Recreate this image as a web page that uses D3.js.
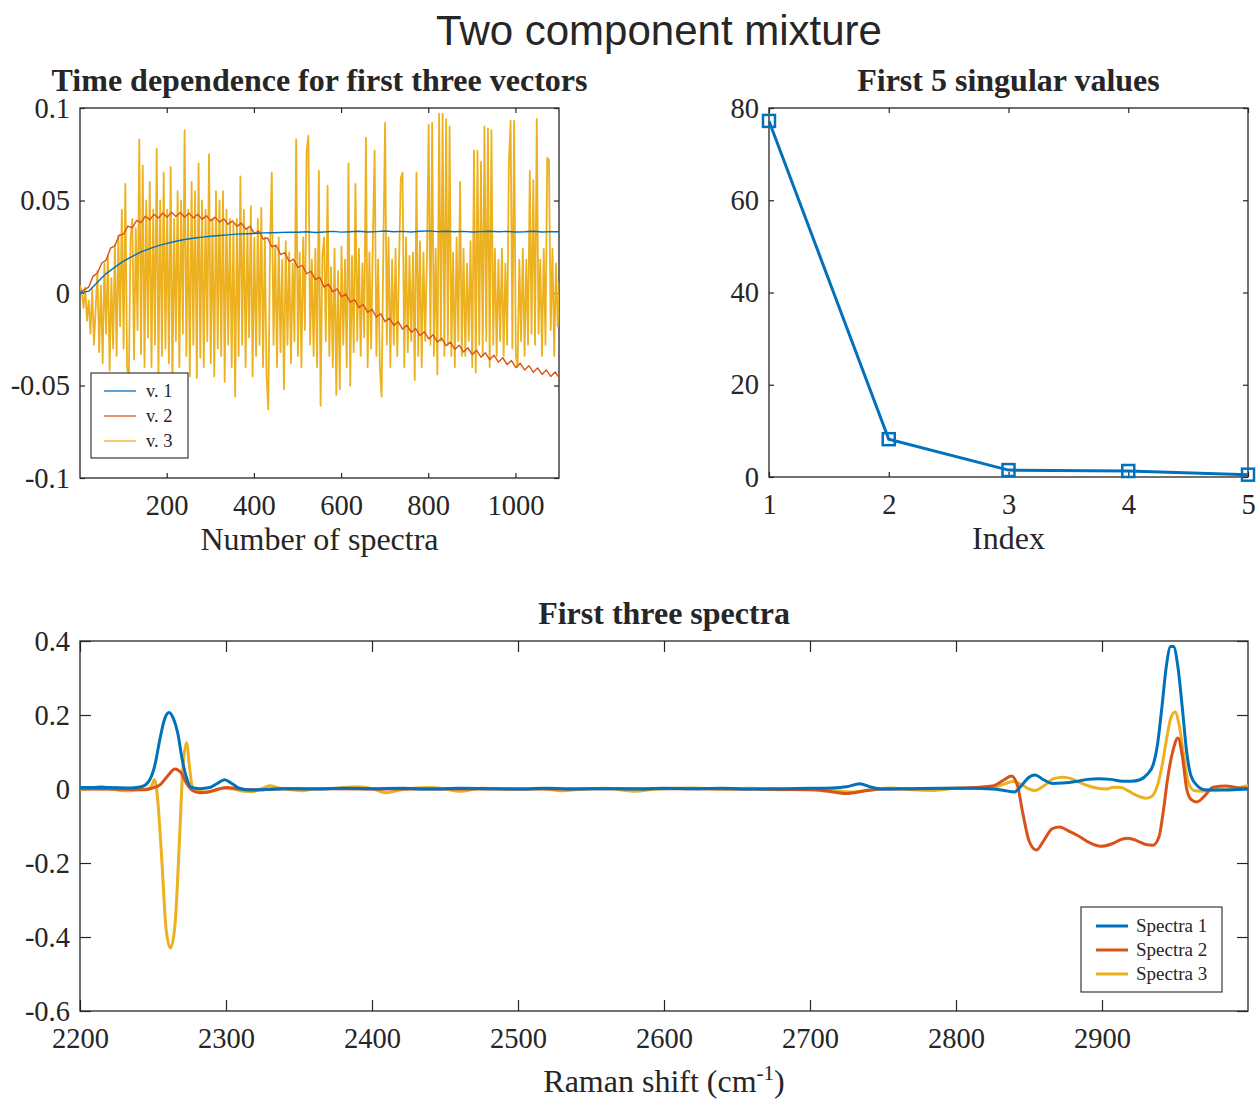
<!DOCTYPE html>
<html lang="en">
<head>
<meta charset="UTF-8">
<title>Two component mixture</title>
<script src="https://d3js.org/d3.v7.min.js"></script>
<style>
  body { margin: 0; background: #fff; }
  svg text { font-family: "Liberation Serif", "Times New Roman", serif; fill: #262626; }
</style>
</head>
<body>
<script>
// ---------- data ----------
var blue = "#0072BD", orange = "#D95319", yellow = "#EDB120";

// time dependence of the first three vectors (spectrum number -> value)
var v1Start = 1, v1Step = 20;
var v1 = [0.0000, 0.0010, 0.0058, 0.0105, 0.0140, 0.0172, 0.0198, 0.0222, 0.0240, 0.0256,
          0.0268, 0.0280, 0.0289, 0.0296, 0.0302, 0.0307, 0.0311, 0.0314, 0.0318, 0.0320,
          0.0322, 0.0325, 0.0326, 0.0327, 0.0329, 0.0328, 0.0331, 0.0327, 0.0330, 0.0333,
          0.0329, 0.0331, 0.0334, 0.0330, 0.0332, 0.0335, 0.0331, 0.0333, 0.0330, 0.0334,
          0.0336, 0.0332, 0.0334, 0.0331, 0.0333, 0.0330, 0.0332, 0.0334, 0.0331, 0.0333,
          0.0330, 0.0331, 0.0334, 0.0330, 0.0332, 0.0331];

var v2Start = 1, v2Step = 10;
var v2 = [0.0000, 0.0018, 0.0032, 0.0090, 0.0108, 0.0162, 0.0178, 0.0242, 0.0255, 0.0312,
          0.0318, 0.0362, 0.0352, 0.0392, 0.0380, 0.0415, 0.0396, 0.0425, 0.0405, 0.0432,
          0.0410, 0.0436, 0.0414, 0.0435, 0.0410, 0.0431, 0.0406, 0.0426, 0.0398, 0.0418,
          0.0390, 0.0410, 0.0383, 0.0400, 0.0372, 0.0390, 0.0360, 0.0378, 0.0345, 0.0360,
          0.0322, 0.0335, 0.0292, 0.0298, 0.0250, 0.0258, 0.0208, 0.0218, 0.0170, 0.0182,
          0.0138, 0.0150, 0.0104, 0.0117, 0.0072, 0.0085, 0.0032, 0.0048, 0.0006, 0.0022,
          -0.0020, -0.0006, -0.0050, -0.0036, -0.0078, -0.0062, -0.0105, -0.0088, -0.0130, -0.0113,
          -0.0155, -0.0136, -0.0175, -0.0155, -0.0195, -0.0174, -0.0213, -0.0192, -0.0230, -0.0209,
          -0.0248, -0.0226, -0.0265, -0.0245, -0.0285, -0.0265, -0.0305, -0.0282, -0.0319, -0.0296,
          -0.0333, -0.0310, -0.0347, -0.0323, -0.0360, -0.0337, -0.0374, -0.0350, -0.0387, -0.0365,
          -0.0403, -0.0380, -0.0416, -0.0393, -0.0429, -0.0405, -0.0440, -0.0416, -0.0451, -0.0427,
          -0.0460];

var v3Start = 1, v3Step = 4;
var v3 = [0.004, 0.001, -0.008, 0.003, -0.015, -0.004, -0.022, 0.002, -0.028, -0.008,
          0.012, -0.032, 0.004, -0.038, 0.016, -0.022, 0.020, -0.042, 0.008, -0.030,
          0.026, -0.034, 0.031, -0.018, 0.045, -0.030, 0.059, -0.040, -0.047, 0.030,
          0.040, -0.036, 0.035, -0.020, 0.083, -0.033, 0.069, -0.040, 0.050, -0.024,
          0.060, -0.040, 0.045, -0.028, 0.078, -0.044, 0.050, -0.034, 0.065, -0.030,
          0.045, -0.038, 0.068, -0.052, 0.040, -0.026, 0.055, -0.040, 0.050, -0.022,
          0.088, -0.034, 0.045, -0.045, 0.060, -0.028, 0.055, -0.046, 0.070, -0.035,
          0.050, -0.040, 0.045, -0.026, 0.075, -0.038, 0.040, -0.045, 0.055, -0.030,
          0.050, -0.034, 0.055, -0.048, 0.045, -0.028, 0.040, -0.040, 0.038, -0.056,
          0.040, -0.034, 0.063, -0.028, 0.045, -0.040, 0.035, -0.024, 0.047, -0.045,
          0.030, -0.034, 0.040, -0.028, 0.046, -0.040, 0.030, -0.045, -0.063, 0.025,
          0.065, -0.028, 0.025, -0.040, 0.030, -0.032, 0.018, -0.052, 0.028, -0.028,
          0.022, -0.038, 0.016, -0.026, 0.083, -0.034, 0.022, -0.040, 0.030, -0.020,
          0.077, 0.085, -0.028, 0.018, -0.034, 0.024, -0.040, 0.066, -0.061, 0.020,
          0.030, -0.026, 0.058, -0.034, 0.014, -0.040, 0.024, -0.055, 0.012, -0.052,
          0.025, -0.028, 0.018, -0.040, 0.070, -0.050, 0.020, -0.032, 0.059, -0.026,
          0.024, -0.034, 0.016, -0.024, 0.084, -0.040, 0.022, -0.030, 0.030, 0.077,
          -0.034, 0.018, -0.040, -0.056, 0.024, 0.092, -0.028, 0.030, -0.040, 0.018,
          -0.028, 0.024, -0.034, 0.016, 0.062, 0.065, -0.040, 0.030, -0.032, 0.020,
          -0.026, 0.022, -0.047, 0.065, -0.034, 0.028, -0.040, 0.022, -0.026, 0.018,
          0.091, -0.028, 0.092, -0.034, 0.024, -0.044, 0.097, -0.026, 0.097, -0.034,
          0.094, -0.028, 0.090, -0.034, 0.022, -0.040, 0.030, -0.026, 0.060, -0.034,
          0.024, -0.034, 0.016, -0.026, 0.028, -0.040, 0.077, -0.043, 0.077, -0.028,
          0.071, -0.034, 0.090, -0.026, 0.089, -0.040, 0.088, -0.028, 0.024, -0.034,
          0.018, -0.026, 0.024, -0.034, 0.016, -0.028, 0.070, 0.093, -0.030, 0.093,
          -0.034, -0.040, 0.018, -0.026, 0.024, -0.034, 0.018, -0.028, 0.066, -0.022,
          0.061, -0.028, 0.094, -0.022, 0.018, -0.034, 0.024, -0.028, 0.073, 0.072,
          -0.020, 0.024, -0.034, 0.016, -0.018, 0.006];

var vectorNames = ["v. 1", "v. 2", "v. 3"];
var timeXTicks = [200, 400, 600, 800, 1000];
var timeYTicks = [-0.1, -0.05, 0, 0.05, 0.1];

// singular values
var svIndex = [1, 2, 3, 4, 5];
var svValue = [77.2, 8.2, 1.5, 1.3, 0.5];
var svYTicks = [0, 20, 40, 60, 80];

// first three spectra: Raman shift (cm-1) and value
var s1Shift = [2200, 2220, 2235, 2242, 2247, 2251, 2255, 2258, 2261, 2264, 2267, 2270, 2273, 2276, 2282,
               2289, 2294, 2299, 2304, 2309, 2316, 2325, 2340, 2360, 2380, 2400, 2420, 2440, 2460, 2480,
               2500, 2520, 2540, 2560, 2580, 2600, 2620, 2640, 2660, 2680, 2700, 2715, 2725, 2734, 2742,
               2750, 2770, 2790, 2810, 2825, 2833, 2840, 2845, 2850, 2854, 2860, 2866, 2873, 2882, 2890,
               2898, 2906, 2914, 2920, 2926, 2931, 2935, 2938, 2941, 2944, 2947, 2949, 2952, 2955, 2958,
               2961, 2965, 2970, 2980, 2990, 3000];
var s1Value = [0.004, 0.004, 0.003, 0.006, 0.02, 0.06, 0.14, 0.19, 0.207, 0.19, 0.15, 0.08, 0.03, 0.005, 0.001,
               0.004, 0.015, 0.025, 0.015, 0.002, -0.003, -0.002, 0.001, 0.0, 0.002, 0.001, 0.002, 0.0, 0.002, 0.001,
               0.0, 0.002, 0.0, 0.001, 0.0, 0.002, 0.001, 0.002, 0.0, 0.001, 0.002, 0.003, 0.006, 0.014, 0.005,
               0.0, 0.001, 0.002, 0.002, 0.0, -0.004, -0.008, 0.01, 0.032, 0.038, 0.025, 0.015, 0.016, 0.02, 0.026,
               0.028, 0.026, 0.021, 0.021, 0.025, 0.04, 0.065, 0.12, 0.22, 0.33, 0.385, 0.385, 0.33, 0.22, 0.1,
               0.035, 0.01, -0.002, -0.003, -0.002, 0.0];

var s2Shift = [2200, 2230, 2245, 2250, 2255, 2260, 2265, 2269, 2273, 2277, 2282, 2288, 2295, 2301, 2308,
               2320, 2340, 2400, 2500, 2600, 2700, 2712, 2725, 2738, 2750, 2800, 2825, 2833, 2838, 2842,
               2846, 2850, 2855, 2860, 2866, 2871, 2877, 2883, 2890, 2899, 2907, 2914, 2918, 2924, 2930,
               2935, 2939, 2942, 2945, 2949, 2952, 2955, 2958, 2961, 2965, 2970, 2976, 2985, 2992, 3000];
var s2Value = [0.0, -0.001, -0.002, 0.003, 0.012, 0.035, 0.054, 0.045, 0.015, -0.004, -0.01, -0.008, 0.0, 0.004, 0.0,
               -0.002, 0.001, 0.0, 0.0, 0.001, -0.002, -0.006, -0.012, -0.005, 0.0, 0.002, 0.008, 0.025, 0.035, 0.01,
               -0.07, -0.14, -0.165, -0.14, -0.107, -0.103, -0.113, -0.125, -0.142, -0.155, -0.148, -0.135, -0.133, -0.14, -0.15,
               -0.152, -0.13, -0.06, 0.03, 0.11, 0.138, 0.09, 0.0, -0.028, -0.035, -0.02, 0.005, 0.008, 0.004, 0.002];

var s3Shift = [2200, 2207, 2215, 2222, 2232, 2240, 2246, 2249, 2251, 2253, 2256, 2259, 2262, 2265, 2268,
               2270.5, 2273, 2275, 2277, 2281, 2286, 2292, 2298, 2305, 2312, 2318, 2324, 2330, 2336, 2345,
               2352, 2360, 2375, 2390, 2400, 2410, 2420, 2440, 2450, 2460, 2475, 2500, 2515, 2530, 2545,
               2560, 2580, 2595, 2620, 2640, 2660, 2680, 2700, 2715, 2728, 2740, 2755, 2770, 2785, 2800,
               2815, 2825, 2832, 2839, 2845, 2850, 2854, 2860, 2867, 2873, 2879, 2885, 2891, 2897, 2903,
               2908, 2913, 2918, 2924, 2930, 2934, 2938, 2941, 2944, 2947, 2950, 2953, 2956, 2959, 2963,
               2968, 2975, 2985, 2995, 3000];
var s3Value = [-0.002, 0.002, 0.007, 0.0, -0.005, -0.002, 0.0, 0.008, 0.025, -0.02, -0.19, -0.38, -0.43, -0.37, -0.15,
               0.06, 0.125, 0.06, 0.005, -0.006, -0.008, -0.004, 0.002, 0.0, -0.006, -0.007, 0.0, 0.009, 0.003, -0.002,
               -0.005, 0.0, 0.002, 0.006, 0.001, -0.01, -0.002, 0.004, 0.0, -0.006, 0.002, 0.0, 0.002, -0.005, 0.0,
               0.002, -0.006, 0.0, 0.003, 0.0, 0.002, -0.002, 0.0, -0.004, -0.008, -0.003, 0.003, -0.002, -0.004, 0.002,
               0.003, 0.004, 0.012, 0.02, 0.012, 0.0, -0.004, 0.008, 0.028, 0.032, 0.028, 0.017, 0.008, 0.002, 0.0,
               0.005, 0.004, -0.005, -0.018, -0.025, -0.02, 0.01, 0.06, 0.13, 0.19, 0.208, 0.17, 0.09, 0.02, -0.004,
               -0.006, -0.003, -0.001, 0.004, 0.01];

var spectraNames = ["Spectra 1", "Spectra 2", "Spectra 3"];
var ramanXTicks = [2200, 2300, 2400, 2500, 2600, 2700, 2800, 2900];
var ramanYTicks = [-0.6, -0.4, -0.2, 0, 0.2, 0.4];

// ---------- drawing ----------
var width = 1257, height = 1099;
var ink = "#262626";

var svg = d3.select("body").append("svg")
    .attr("width", width)
    .attr("height", height);

svg.append("text")
    .attr("x", 659).attr("y", 45)
    .attr("text-anchor", "middle")
    .style("font-family", "'Liberation Sans', Arial, sans-serif")
    .style("font-size", "42px")
    .text("Two component mixture");

// plain hyphen minus like the original figure
function num(d) { return String(d).replace("\u2212", "-"); }

// builds an axes box with inward ticks on all four sides
function makeAxes(id, box, x, y, xTicks, yTicks, tickLen, yFmt) {
    var g = svg.append("g").attr("transform", "translate(" + box.x + "," + box.y + ")");

    g.append("clipPath").attr("id", id)
        .append("rect").attr("width", box.w).attr("height", box.h);

    var axes = [
        d3.axisBottom(x).tickValues(xTicks).tickSize(-tickLen).tickSizeOuter(0).tickPadding(17).tickFormat(num),
        d3.axisTop(x).tickValues(xTicks).tickSize(-tickLen).tickSizeOuter(0).tickFormat(""),
        d3.axisLeft(y).tickValues(yTicks).tickSize(-tickLen).tickSizeOuter(0).tickPadding(10).tickFormat(yFmt),
        d3.axisRight(y).tickValues(yTicks).tickSize(-tickLen).tickSizeOuter(0).tickFormat("")
    ];
    var shifts = ["0," + box.h, "0,0", "0,0", box.w + ",0"];
    axes.forEach(function(ax, i) {
        var a = g.append("g").attr("transform", "translate(" + shifts[i] + ")").call(ax);
        a.attr("font-family", null);
        a.select(".domain").remove();
        a.selectAll("line").attr("stroke", ink).attr("stroke-width", 1.2);
        a.selectAll("text").attr("fill", ink).style("font-size", "28.5px")
            .style("font-family", "'Liberation Serif', 'Times New Roman', serif");
    });

    g.append("rect")
        .attr("width", box.w).attr("height", box.h)
        .attr("fill", "none").attr("stroke", ink).attr("stroke-width", 1.3);

    var plot = g.append("g").attr("clip-path", "url(#" + id + ")");
    return { g: g, plot: plot };
}

function title(g, box, txt) {
    g.append("text")
        .attr("x", box.w / 2).attr("y", -17)
        .attr("text-anchor", "middle")
        .style("font-size", "32px").style("font-weight", "bold").attr("fill", "#000")
        .text(txt);
}

function xLabel(g, box, txt, gap) {
    return g.append("text")
        .attr("x", box.w / 2).attr("y", box.h + gap)
        .attr("text-anchor", "middle")
        .style("font-size", "32px")
        .text(txt);
}

function seq(start, step, n) {
    return d3.range(n).map(function(i) { return start + i * step; });
}

// ----- panel 1: time dependence -----
var b1 = { x: 80, y: 108, w: 479, h: 370 };
var x1 = d3.scaleLinear().domain([1, 1100]).range([0, b1.w]);
var y1 = d3.scaleLinear().domain([-0.1, 0.1]).range([b1.h, 0]);
var p1 = makeAxes("clip1", b1, x1, y1, timeXTicks, timeYTicks, 5, num);
title(p1.g, b1, "Time dependence for first three vectors");
xLabel(p1.g, b1, "Number of spectra", 72);

var vectors = [
    { vals: v3, xs: seq(v3Start, v3Step, v3.length), color: yellow, w: 1.8 },
    { vals: v2, xs: seq(v2Start, v2Step, v2.length), color: orange, w: 1.4 },
    { vals: v1, xs: seq(v1Start, v1Step, v1.length), color: blue, w: 1.4 }
];
vectors.forEach(function(s) {
    var line = d3.line()
        .x(function(d, i) { return x1(s.xs[i]); })
        .y(function(d) { return y1(d); });
    p1.plot.append("path")
        .attr("d", line(s.vals))
        .attr("fill", "none")
        .attr("stroke", s.color)
        .attr("stroke-width", s.w)
        .attr("stroke-linejoin", "round");
});

// legend 1
var leg1 = p1.g.append("g").attr("transform", "translate(11," + 265 + ")");
leg1.append("rect").attr("width", 97).attr("height", 85)
    .attr("fill", "#fff").attr("stroke", ink).attr("stroke-width", 1.1);
[blue, orange, yellow].forEach(function(c, i) {
    var yy = 18 + i * 25;
    leg1.append("line").attr("x1", 13).attr("x2", 45).attr("y1", yy).attr("y2", yy)
        .attr("stroke", c).attr("stroke-width", 1.3);
    leg1.append("text").attr("x", 55).attr("y", yy + 6)
        .style("font-size", "18.5px").text(vectorNames[i]);
});

// ----- panel 2: singular values -----
var b2 = { x: 769, y: 108, w: 479, h: 369 };
var x2 = d3.scaleLinear().domain([1, 5]).range([0, b2.w]);
var y2 = d3.scaleLinear().domain([0, 80]).range([b2.h, 0]);
var p2 = makeAxes("clip2", b2, x2, y2, svIndex, svYTicks, 5, num);
title(p2.g, b2, "First 5 singular values");
xLabel(p2.g, b2, "Index", 72);

p2.g.append("path")
    .attr("d", d3.line().x(function(d, i) { return x2(svIndex[i]); }).y(function(d) { return y2(d); })(svValue))
    .attr("fill", "none").attr("stroke", blue).attr("stroke-width", 3);
p2.g.selectAll(".mk").data(svValue).enter().append("rect")
    .attr("class", "mk")
    .attr("x", function(d, i) { return x2(svIndex[i]) - 6; })
    .attr("y", function(d) { return y2(d) - 6; })
    .attr("width", 12).attr("height", 12)
    .attr("fill", "none").attr("stroke", blue).attr("stroke-width", 2.5);

// ----- panel 3: first three spectra -----
var b3 = { x: 80, y: 641, w: 1168, h: 370 };
var x3 = d3.scaleLinear().domain([2200, 3000]).range([0, b3.w]);
var y3 = d3.scaleLinear().domain([-0.6, 0.4]).range([b3.h, 0]);
var p3 = makeAxes("clip3", b3, x3, y3, ramanXTicks, ramanYTicks, 11,
    function(d) { return d === 0 ? "0" : num(d3.format(".1f")(d)); });
title(p3.g, b3, "First three spectra");
var rl = xLabel(p3.g, b3, "Raman shift (cm", 81);
rl.append("tspan").attr("dy", -12).style("font-size", "21px").text("-1");
rl.append("tspan").attr("dy", 12).text(")");

var spectra = [
    { xs: s3Shift, vals: s3Value, color: yellow },
    { xs: s2Shift, vals: s2Value, color: orange },
    { xs: s1Shift, vals: s1Value, color: blue }
];
spectra.forEach(function(s) {
    var line = d3.line()
        .curve(d3.curveMonotoneX)
        .x(function(d, i) { return x3(s.xs[i]); })
        .y(function(d) { return y3(d); });
    p3.plot.append("path")
        .attr("d", line(s.vals))
        .attr("fill", "none")
        .attr("stroke", s.color)
        .attr("stroke-width", 3)
        .attr("stroke-linejoin", "round");
});

// legend 3
var leg3 = p3.g.append("g").attr("transform", "translate(1001,266)");
leg3.append("rect").attr("width", 141).attr("height", 85)
    .attr("fill", "#fff").attr("stroke", ink).attr("stroke-width", 1.1);
[blue, orange, yellow].forEach(function(c, i) {
    var yy = 19 + i * 24;
    leg3.append("line").attr("x1", 15).attr("x2", 47).attr("y1", yy).attr("y2", yy)
        .attr("stroke", c).attr("stroke-width", 3);
    leg3.append("text").attr("x", 55).attr("y", yy + 6)
        .style("font-size", "19px").text(spectraNames[i]);
});
</script>
</body>
</html>
